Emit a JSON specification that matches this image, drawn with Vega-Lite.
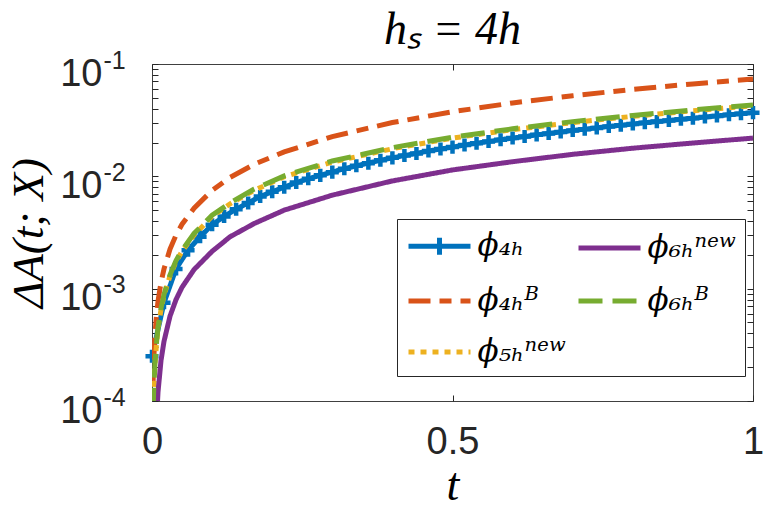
{
  "$schema": "https://vega.github.io/schema/vega-lite/v6.json",
  "width": 601,
  "height": 337,
  "autosize": {"type": "none"},
  "padding": {"left": 152, "top": 64, "right": 14, "bottom": 120},
  "background": "white",
  "config": {
    "view": {"stroke": "#404040", "strokeWidth": 1},
    "font": "Liberation Sans",
    "axis": {"grid": false, "labelFlush": false, "labelOverlap": false}
  },
  "title": {"text": "hₛ = 4h", "font": "Liberation Serif", "fontStyle": "italic", "fontWeight": "normal", "fontSize": 46, "color": "#000000", "offset": -42, "anchor": "middle", "frame": "group", "baseline": "alphabetic"},
  "data": {
    "values": [
      {"s": "ϕ₄ₕ", "t": 0, "v": 0.00025},
      {"s": "ϕ₄ₕ", "t": 0.02, "v": 0.00075},
      {"s": "ϕ₄ₕ", "t": 0.04, "v": 0.0015},
      {"s": "ϕ₄ₕ", "t": 0.06, "v": 0.0022},
      {"s": "ϕ₄ₕ", "t": 0.08, "v": 0.0029},
      {"s": "ϕ₄ₕ", "t": 0.10, "v": 0.0037},
      {"s": "ϕ₄ₕ", "t": 0.12, "v": 0.0044},
      {"s": "ϕ₄ₕ", "t": 0.14, "v": 0.0051},
      {"s": "ϕ₄ₕ", "t": 0.16, "v": 0.0058},
      {"s": "ϕ₄ₕ", "t": 0.18, "v": 0.0066},
      {"s": "ϕ₄ₕ", "t": 0.20, "v": 0.0073},
      {"s": "ϕ₄ₕ", "t": 0.22, "v": 0.0080},
      {"s": "ϕ₄ₕ", "t": 0.24, "v": 0.0088},
      {"s": "ϕ₄ₕ", "t": 0.26, "v": 0.0095},
      {"s": "ϕ₄ₕ", "t": 0.28, "v": 0.0102},
      {"s": "ϕ₄ₕ", "t": 0.30, "v": 0.0109},
      {"s": "ϕ₄ₕ", "t": 0.32, "v": 0.0117},
      {"s": "ϕ₄ₕ", "t": 0.34, "v": 0.0124},
      {"s": "ϕ₄ₕ", "t": 0.36, "v": 0.0131},
      {"s": "ϕ₄ₕ", "t": 0.38, "v": 0.0139},
      {"s": "ϕ₄ₕ", "t": 0.40, "v": 0.0146},
      {"s": "ϕ₄ₕ", "t": 0.42, "v": 0.0153},
      {"s": "ϕ₄ₕ", "t": 0.44, "v": 0.0160},
      {"s": "ϕ₄ₕ", "t": 0.46, "v": 0.0168},
      {"s": "ϕ₄ₕ", "t": 0.48, "v": 0.0175},
      {"s": "ϕ₄ₕ", "t": 0.50, "v": 0.0182},
      {"s": "ϕ₄ₕ", "t": 0.52, "v": 0.0190},
      {"s": "ϕ₄ₕ", "t": 0.54, "v": 0.0197},
      {"s": "ϕ₄ₕ", "t": 0.56, "v": 0.0204},
      {"s": "ϕ₄ₕ", "t": 0.58, "v": 0.0212},
      {"s": "ϕ₄ₕ", "t": 0.60, "v": 0.0219},
      {"s": "ϕ₄ₕ", "t": 0.62, "v": 0.0226},
      {"s": "ϕ₄ₕ", "t": 0.64, "v": 0.0234},
      {"s": "ϕ₄ₕ", "t": 0.66, "v": 0.0241},
      {"s": "ϕ₄ₕ", "t": 0.68, "v": 0.0248},
      {"s": "ϕ₄ₕ", "t": 0.70, "v": 0.0256},
      {"s": "ϕ₄ₕ", "t": 0.72, "v": 0.0263},
      {"s": "ϕ₄ₕ", "t": 0.74, "v": 0.0270},
      {"s": "ϕ₄ₕ", "t": 0.76, "v": 0.0278},
      {"s": "ϕ₄ₕ", "t": 0.78, "v": 0.0285},
      {"s": "ϕ₄ₕ", "t": 0.80, "v": 0.0292},
      {"s": "ϕ₄ₕ", "t": 0.82, "v": 0.0300},
      {"s": "ϕ₄ₕ", "t": 0.84, "v": 0.0307},
      {"s": "ϕ₄ₕ", "t": 0.86, "v": 0.0314},
      {"s": "ϕ₄ₕ", "t": 0.88, "v": 0.0322},
      {"s": "ϕ₄ₕ", "t": 0.90, "v": 0.0329},
      {"s": "ϕ₄ₕ", "t": 0.92, "v": 0.0337},
      {"s": "ϕ₄ₕ", "t": 0.94, "v": 0.0345},
      {"s": "ϕ₄ₕ", "t": 0.96, "v": 0.0353},
      {"s": "ϕ₄ₕ", "t": 0.98, "v": 0.0361},
      {"s": "ϕ₄ₕ", "t": 1.00, "v": 0.0369},

      {"s": "ϕ₄ₕᴮ", "t": 0.001, "v": 0.00008},
      {"s": "ϕ₄ₕᴮ", "t": 0.002, "v": 0.00016},
      {"s": "ϕ₄ₕᴮ", "t": 0.003, "v": 0.00024},
      {"s": "ϕ₄ₕᴮ", "t": 0.005, "v": 0.00039},
      {"s": "ϕ₄ₕᴮ", "t": 0.0075, "v": 0.00058},
      {"s": "ϕ₄ₕᴮ", "t": 0.01, "v": 0.00077},
      {"s": "ϕ₄ₕᴮ", "t": 0.015, "v": 0.00114},
      {"s": "ϕ₄ₕᴮ", "t": 0.02, "v": 0.0015},
      {"s": "ϕ₄ₕᴮ", "t": 0.03, "v": 0.00225},
      {"s": "ϕ₄ₕᴮ", "t": 0.04, "v": 0.003},
      {"s": "ϕ₄ₕᴮ", "t": 0.05, "v": 0.00375},
      {"s": "ϕ₄ₕᴮ", "t": 0.07, "v": 0.0052},
      {"s": "ϕ₄ₕᴮ", "t": 0.1, "v": 0.0075},
      {"s": "ϕ₄ₕᴮ", "t": 0.13, "v": 0.0098},
      {"s": "ϕ₄ₕᴮ", "t": 0.17, "v": 0.0128},
      {"s": "ϕ₄ₕᴮ", "t": 0.22, "v": 0.0165},
      {"s": "ϕ₄ₕᴮ", "t": 0.3, "v": 0.0226},
      {"s": "ϕ₄ₕᴮ", "t": 0.4, "v": 0.0301},
      {"s": "ϕ₄ₕᴮ", "t": 0.5, "v": 0.0376},
      {"s": "ϕ₄ₕᴮ", "t": 0.6, "v": 0.045},
      {"s": "ϕ₄ₕᴮ", "t": 0.7, "v": 0.0522},
      {"s": "ϕ₄ₕᴮ", "t": 0.8, "v": 0.0594},
      {"s": "ϕ₄ₕᴮ", "t": 0.9, "v": 0.0665},
      {"s": "ϕ₄ₕᴮ", "t": 1.0, "v": 0.0735},

      {"s": "ϕ₅ₕⁿᵉʷ", "t": 0.001, "v": 0.000039},
      {"s": "ϕ₅ₕⁿᵉʷ", "t": 0.002, "v": 0.000088},
      {"s": "ϕ₅ₕⁿᵉʷ", "t": 0.003, "v": 0.000127},
      {"s": "ϕ₅ₕⁿᵉʷ", "t": 0.005, "v": 0.000215},
      {"s": "ϕ₅ₕⁿᵉʷ", "t": 0.0075, "v": 0.00032},
      {"s": "ϕ₅ₕⁿᵉʷ", "t": 0.01, "v": 0.00044},
      {"s": "ϕ₅ₕⁿᵉʷ", "t": 0.015, "v": 0.00065},
      {"s": "ϕ₅ₕⁿᵉʷ", "t": 0.02, "v": 0.00087},
      {"s": "ϕ₅ₕⁿᵉʷ", "t": 0.03, "v": 0.0013},
      {"s": "ϕ₅ₕⁿᵉʷ", "t": 0.04, "v": 0.00174},
      {"s": "ϕ₅ₕⁿᵉʷ", "t": 0.05, "v": 0.00215},
      {"s": "ϕ₅ₕⁿᵉʷ", "t": 0.07, "v": 0.003},
      {"s": "ϕ₅ₕⁿᵉʷ", "t": 0.1, "v": 0.0044},
      {"s": "ϕ₅ₕⁿᵉʷ", "t": 0.13, "v": 0.0057},
      {"s": "ϕ₅ₕⁿᵉʷ", "t": 0.17, "v": 0.0075},
      {"s": "ϕ₅ₕⁿᵉʷ", "t": 0.22, "v": 0.0099},
      {"s": "ϕ₅ₕⁿᵉʷ", "t": 0.3, "v": 0.0134},
      {"s": "ϕ₅ₕⁿᵉʷ", "t": 0.4, "v": 0.0176},
      {"s": "ϕ₅ₕⁿᵉʷ", "t": 0.5, "v": 0.0219},
      {"s": "ϕ₅ₕⁿᵉʷ", "t": 0.6, "v": 0.026},
      {"s": "ϕ₅ₕⁿᵉʷ", "t": 0.7, "v": 0.0301},
      {"s": "ϕ₅ₕⁿᵉʷ", "t": 0.8, "v": 0.0342},
      {"s": "ϕ₅ₕⁿᵉʷ", "t": 0.9, "v": 0.0383},
      {"s": "ϕ₅ₕⁿᵉʷ", "t": 1.0, "v": 0.0425},

      {"s": "ϕ₆ₕⁿᵉʷ", "t": 0.005, "v": 0.00002},
      {"s": "ϕ₆ₕⁿᵉʷ", "t": 0.007, "v": 0.00006},
      {"s": "ϕ₆ₕⁿᵉʷ", "t": 0.01, "v": 0.00012},
      {"s": "ϕ₆ₕⁿᵉʷ", "t": 0.015, "v": 0.00023},
      {"s": "ϕ₆ₕⁿᵉʷ", "t": 0.02, "v": 0.00034},
      {"s": "ϕ₆ₕⁿᵉʷ", "t": 0.03, "v": 0.00057},
      {"s": "ϕ₆ₕⁿᵉʷ", "t": 0.04, "v": 0.0008},
      {"s": "ϕ₆ₕⁿᵉʷ", "t": 0.05, "v": 0.00103},
      {"s": "ϕ₆ₕⁿᵉʷ", "t": 0.07, "v": 0.00148},
      {"s": "ϕ₆ₕⁿᵉʷ", "t": 0.1, "v": 0.00215},
      {"s": "ϕ₆ₕⁿᵉʷ", "t": 0.13, "v": 0.0029},
      {"s": "ϕ₆ₕⁿᵉʷ", "t": 0.17, "v": 0.0038},
      {"s": "ϕ₆ₕⁿᵉʷ", "t": 0.22, "v": 0.005},
      {"s": "ϕ₆ₕⁿᵉʷ", "t": 0.3, "v": 0.0068},
      {"s": "ϕ₆ₕⁿᵉʷ", "t": 0.4, "v": 0.0091},
      {"s": "ϕ₆ₕⁿᵉʷ", "t": 0.5, "v": 0.0114},
      {"s": "ϕ₆ₕⁿᵉʷ", "t": 0.6, "v": 0.0135},
      {"s": "ϕ₆ₕⁿᵉʷ", "t": 0.7, "v": 0.0157},
      {"s": "ϕ₆ₕⁿᵉʷ", "t": 0.8, "v": 0.0178},
      {"s": "ϕ₆ₕⁿᵉʷ", "t": 0.9, "v": 0.0198},
      {"s": "ϕ₆ₕⁿᵉʷ", "t": 1.0, "v": 0.0219},

      {"s": "ϕ₆ₕᴮ", "t": 0.001, "v": 0.00004},
      {"s": "ϕ₆ₕᴮ", "t": 0.002, "v": 0.00009},
      {"s": "ϕ₆ₕᴮ", "t": 0.003, "v": 0.00013},
      {"s": "ϕ₆ₕᴮ", "t": 0.005, "v": 0.00022},
      {"s": "ϕ₆ₕᴮ", "t": 0.0075, "v": 0.00033},
      {"s": "ϕ₆ₕᴮ", "t": 0.01, "v": 0.00045},
      {"s": "ϕ₆ₕᴮ", "t": 0.015, "v": 0.00067},
      {"s": "ϕ₆ₕᴮ", "t": 0.02, "v": 0.00089},
      {"s": "ϕ₆ₕᴮ", "t": 0.03, "v": 0.00133},
      {"s": "ϕ₆ₕᴮ", "t": 0.04, "v": 0.00178},
      {"s": "ϕ₆ₕᴮ", "t": 0.05, "v": 0.0022},
      {"s": "ϕ₆ₕᴮ", "t": 0.07, "v": 0.0031},
      {"s": "ϕ₆ₕᴮ", "t": 0.1, "v": 0.0045},
      {"s": "ϕ₆ₕᴮ", "t": 0.13, "v": 0.0058},
      {"s": "ϕ₆ₕᴮ", "t": 0.17, "v": 0.0077},
      {"s": "ϕ₆ₕᴮ", "t": 0.22, "v": 0.0101},
      {"s": "ϕ₆ₕᴮ", "t": 0.3, "v": 0.0137},
      {"s": "ϕ₆ₕᴮ", "t": 0.4, "v": 0.0180},
      {"s": "ϕ₆ₕᴮ", "t": 0.5, "v": 0.0223},
      {"s": "ϕ₆ₕᴮ", "t": 0.6, "v": 0.0265},
      {"s": "ϕ₆ₕᴮ", "t": 0.7, "v": 0.0307},
      {"s": "ϕ₆ₕᴮ", "t": 0.8, "v": 0.0348},
      {"s": "ϕ₆ₕᴮ", "t": 0.9, "v": 0.039},
      {"s": "ϕ₆ₕᴮ", "t": 1.0, "v": 0.0432}
    ]
  },
  "layer": [
    {
      "transform": [{"filter": "datum.s === 'ϕ₄ₕ'"}],
      "mark": {"type": "line", "strokeWidth": 5, "clip": true},
      "encoding": {
        "x": {"field": "t", "type": "quantitative", "scale": {"domain": [0, 1], "nice": false, "zero": false},
          "axis": {"orient": "bottom", "values": [0, 0.5, 1], "ticks": false, "domain": false, "labelFontSize": 38, "labelColor": "#262626", "labelPadding": 22, "labelExpr": "datum.value == 0 ? '0' : (datum.value == 1 ? '1' : '0.5')", "title": "t", "titleFont": "Liberation Serif", "titleFontStyle": "italic", "titleFontWeight": "normal", "titleFontSize": 46, "titlePadding": 2, "titleColor": "#000000"}},
        "y": {"field": "v", "type": "quantitative", "scale": {"type": "log", "domain": [0.0001, 0.1], "nice": false},
          "axis": {"orient": "left", "values": [0.0001, 0.001, 0.01, 0.1], "ticks": false, "domain": false, "labelExpr": "'10'", "labelFontSize": 38, "labelPadding": 50, "labelOffset": 10, "labelBaseline": "middle", "labelColor": "#262626", "title": "ΔA(t; X)", "titleFont": "Liberation Serif", "titleFontStyle": "italic", "titleFontWeight": "normal", "titleFontSize": 45, "titlePadding": 8, "titleColor": "#000000"}},
        "color": {"field": "s", "type": "nominal",
          "scale": {"domain": ["ϕ₄ₕ", "ϕ₄ₕᴮ", "ϕ₅ₕⁿᵉʷ", "ϕ₆ₕⁿᵉʷ", "ϕ₆ₕᴮ"], "range": ["#0072BD", "#D95319", "#EDB120", "#7E2F8E", "#77AC30"]},
          "legend": {"orient": "none", "legendX": 245, "legendY": 155, "columns": 2, "title": null, "symbolType": "M-2,0H2", "symbolSize": 961, "symbolOffset": 15.5, "symbolStrokeWidth": 5, "symbolOpacity": 1, "labelFont": "DejaVu Serif", "labelFontStyle": "italic", "labelFontSize": 31, "labelBaseline": "middle", "labelColor": "#000000", "labelOffset": 20, "labelLimit": 300, "columnPadding": 2, "rowPadding": 18, "padding": 9, "strokeColor": "#262626", "fillColor": "white",
            "encode": {"symbols": {"update": {"shape": {"signal": "datum.value === 'ϕ₄ₕ' ? 'M-2,0H2M0,-0.55V0.55' : 'M-2,0H2'"}}}}}},
        "strokeDash": {"field": "s", "type": "nominal",
          "scale": {"domain": ["ϕ₄ₕ", "ϕ₄ₕᴮ", "ϕ₅ₕⁿᵉʷ", "ϕ₆ₕⁿᵉʷ", "ϕ₆ₕᴮ"], "range": [[1, 0], [22, 9, 12, 9], [6, 6], [1, 0], [24, 10]]}}
      }
    },
    {
      "transform": [{"filter": "datum.s === 'ϕ₄ₕ'"}],
      "mark": {"type": "point", "shape": "M-1,0H1M0,-1V1", "size": 170, "strokeWidth": 4.5, "color": "#0072BD", "filled": false, "opacity": 1},
      "encoding": {
        "x": {"field": "t", "type": "quantitative", "scale": {"domain": [0, 1], "nice": false, "zero": false}, "axis": null},
        "y": {"field": "v", "type": "quantitative", "scale": {"type": "log", "domain": [0.0001, 0.1], "nice": false}, "axis": null}
      }
    },
    {
      "transform": [{"filter": "datum.s === 'ϕ₄ₕᴮ'"}],
      "mark": {"type": "line", "strokeWidth": 5, "clip": true},
      "encoding": {
        "x": {"field": "t", "type": "quantitative", "scale": {"domain": [0, 1], "nice": false, "zero": false},
          "axis": {"orient": "bottom", "values": [0, 0.5, 1], "labels": false, "domain": false, "ticks": true, "tickSize": -6, "tickColor": "#262626", "title": null}},
        "y": {"field": "v", "type": "quantitative", "scale": {"type": "log", "domain": [0.0001, 0.1], "nice": false},
          "axis": {"orient": "left", "values": [0.0001, 0.001, 0.01, 0.1], "ticks": false, "domain": false, "labelExpr": "'-' + round(-log(datum.value) / LN10)", "labelAlign": "left", "labelFontSize": 25, "labelPadding": 49, "labelOffset": -4, "labelBaseline": "middle", "labelColor": "#262626", "title": null}},
        "color": {"field": "s", "type": "nominal", "scale": {"domain": ["ϕ₄ₕ", "ϕ₄ₕᴮ", "ϕ₅ₕⁿᵉʷ", "ϕ₆ₕⁿᵉʷ", "ϕ₆ₕᴮ"], "range": ["#0072BD", "#D95319", "#EDB120", "#7E2F8E", "#77AC30"]}},
        "strokeDash": {"field": "s", "type": "nominal", "scale": {"domain": ["ϕ₄ₕ", "ϕ₄ₕᴮ", "ϕ₅ₕⁿᵉʷ", "ϕ₆ₕⁿᵉʷ", "ϕ₆ₕᴮ"], "range": [[1, 0], [22, 9, 12, 9], [6, 6], [1, 0], [24, 10]]}}
      }
    },
    {
      "transform": [{"filter": "datum.s === 'ϕ₅ₕⁿᵉʷ'"}],
      "mark": {"type": "line", "strokeWidth": 5, "clip": true},
      "encoding": {
        "x": {"field": "t", "type": "quantitative", "scale": {"domain": [0, 1], "nice": false, "zero": false},
          "axis": {"orient": "top", "values": [0, 0.5, 1], "labels": false, "domain": false, "ticks": true, "tickSize": -6, "tickColor": "#262626", "title": null}},
        "y": {"field": "v", "type": "quantitative", "scale": {"type": "log", "domain": [0.0001, 0.1], "nice": false},
          "axis": {"orient": "left", "values": [0.0001, 0.0002, 0.0003, 0.0004, 0.0005, 0.0006, 0.0007, 0.0008, 0.0009, 0.001, 0.002, 0.003, 0.004, 0.005, 0.006, 0.007, 0.008, 0.009, 0.01, 0.02, 0.03, 0.04, 0.05, 0.06, 0.07, 0.08, 0.09, 0.1], "labels": false, "domain": false, "ticks": true, "tickSize": -6, "tickColor": "#262626", "title": null}},
        "color": {"field": "s", "type": "nominal", "scale": {"domain": ["ϕ₄ₕ", "ϕ₄ₕᴮ", "ϕ₅ₕⁿᵉʷ", "ϕ₆ₕⁿᵉʷ", "ϕ₆ₕᴮ"], "range": ["#0072BD", "#D95319", "#EDB120", "#7E2F8E", "#77AC30"]}},
        "strokeDash": {"field": "s", "type": "nominal", "scale": {"domain": ["ϕ₄ₕ", "ϕ₄ₕᴮ", "ϕ₅ₕⁿᵉʷ", "ϕ₆ₕⁿᵉʷ", "ϕ₆ₕᴮ"], "range": [[1, 0], [22, 9, 12, 9], [6, 6], [1, 0], [24, 10]]}}
      }
    },
    {
      "transform": [{"filter": "datum.s === 'ϕ₆ₕⁿᵉʷ'"}],
      "mark": {"type": "line", "strokeWidth": 5, "clip": true},
      "encoding": {
        "x": {"field": "t", "type": "quantitative", "scale": {"domain": [0, 1], "nice": false, "zero": false}, "axis": null},
        "y": {"field": "v", "type": "quantitative", "scale": {"type": "log", "domain": [0.0001, 0.1], "nice": false},
          "axis": {"orient": "right", "values": [0.0001, 0.0002, 0.0003, 0.0004, 0.0005, 0.0006, 0.0007, 0.0008, 0.0009, 0.001, 0.002, 0.003, 0.004, 0.005, 0.006, 0.007, 0.008, 0.009, 0.01, 0.02, 0.03, 0.04, 0.05, 0.06, 0.07, 0.08, 0.09, 0.1], "labels": false, "domain": false, "ticks": true, "tickSize": -6, "tickColor": "#262626", "title": null}},
        "color": {"field": "s", "type": "nominal", "scale": {"domain": ["ϕ₄ₕ", "ϕ₄ₕᴮ", "ϕ₅ₕⁿᵉʷ", "ϕ₆ₕⁿᵉʷ", "ϕ₆ₕᴮ"], "range": ["#0072BD", "#D95319", "#EDB120", "#7E2F8E", "#77AC30"]}},
        "strokeDash": {"field": "s", "type": "nominal", "scale": {"domain": ["ϕ₄ₕ", "ϕ₄ₕᴮ", "ϕ₅ₕⁿᵉʷ", "ϕ₆ₕⁿᵉʷ", "ϕ₆ₕᴮ"], "range": [[1, 0], [22, 9, 12, 9], [6, 6], [1, 0], [24, 10]]}}
      }
    },
    {
      "transform": [{"filter": "datum.s === 'ϕ₆ₕᴮ'"}],
      "mark": {"type": "line", "strokeWidth": 5, "clip": true},
      "encoding": {
        "x": {"field": "t", "type": "quantitative", "scale": {"domain": [0, 1], "nice": false, "zero": false}, "axis": null},
        "y": {"field": "v", "type": "quantitative", "scale": {"type": "log", "domain": [0.0001, 0.1], "nice": false}, "axis": null},
        "color": {"field": "s", "type": "nominal", "scale": {"domain": ["ϕ₄ₕ", "ϕ₄ₕᴮ", "ϕ₅ₕⁿᵉʷ", "ϕ₆ₕⁿᵉʷ", "ϕ₆ₕᴮ"], "range": ["#0072BD", "#D95319", "#EDB120", "#7E2F8E", "#77AC30"]}},
        "strokeDash": {"field": "s", "type": "nominal", "scale": {"domain": ["ϕ₄ₕ", "ϕ₄ₕᴮ", "ϕ₅ₕⁿᵉʷ", "ϕ₆ₕⁿᵉʷ", "ϕ₆ₕᴮ"], "range": [[1, 0], [22, 9, 12, 9], [6, 6], [1, 0], [24, 10]]}}
      }
    }
  ],
  "resolve": {"axis": {"x": "independent", "y": "independent"}}
}
